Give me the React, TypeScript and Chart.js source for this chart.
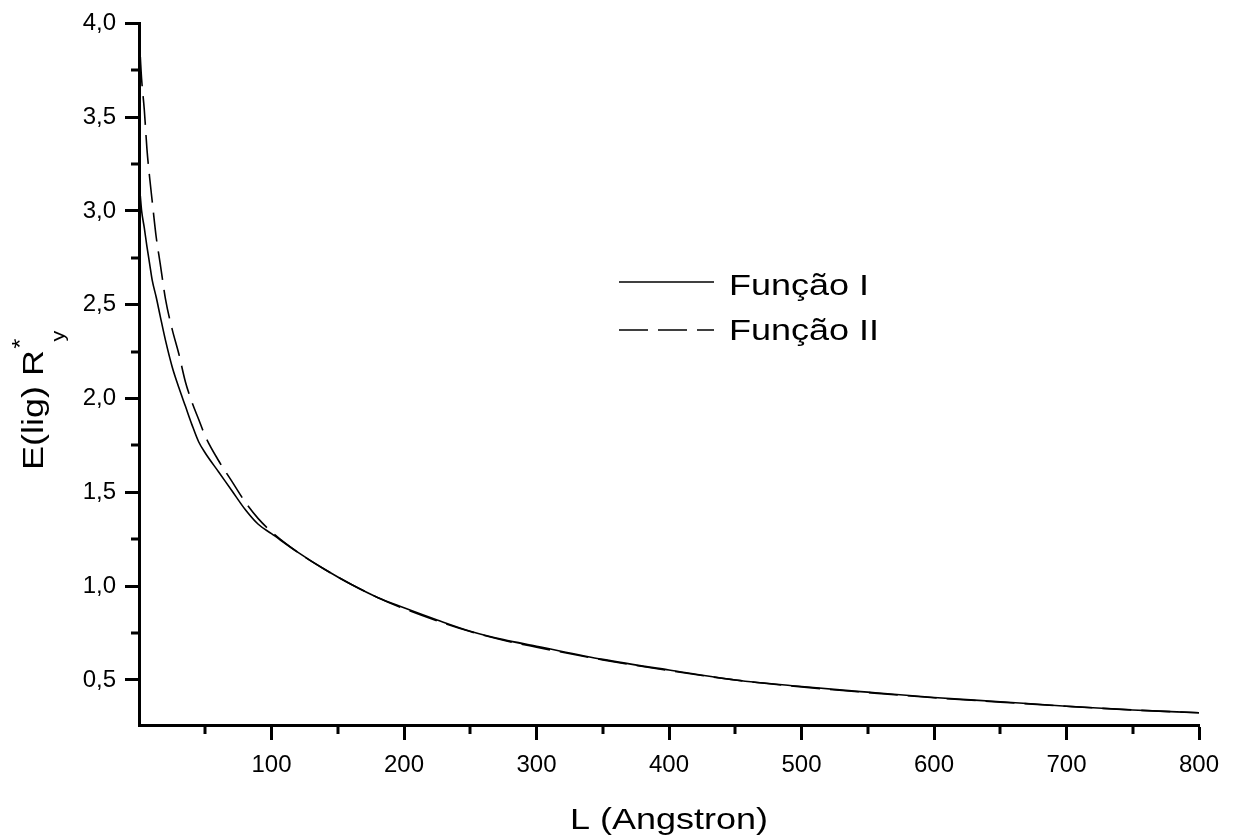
import { useEffect, useRef } from "react";
import { Chart, registerables } from "chart.js";

Chart.register(...registerables);

// ---- data ----
const L_VALUES = [1, 2, 4, 6, 8, 10, 13, 16, 20, 25, 30, 35, 40, 45, 50, 60, 70, 80, 90, 100, 120, 140, 160, 180, 200, 225, 250, 275, 300, 350, 400, 450, 500, 550, 600, 650, 700, 750, 800];
const FUNCAO_I = [3.08, 3.0, 2.91, 2.81, 2.72, 2.63, 2.54, 2.44, 2.31, 2.17, 2.06, 1.96, 1.86, 1.77, 1.71, 1.61, 1.51, 1.41, 1.33, 1.28, 1.18, 1.09, 1.01, 0.94, 0.885, 0.82, 0.76, 0.715, 0.68, 0.61, 0.553, 0.5, 0.465, 0.435, 0.407, 0.384, 0.36, 0.34, 0.325];
const FUNCAO_II = [3.82, 3.70, 3.54, 3.33, 3.18, 3.05, 2.86, 2.72, 2.53, 2.37, 2.24, 2.09, 1.98, 1.89, 1.80, 1.67, 1.56, 1.45, 1.36, 1.29, 1.18, 1.09, 1.01, 0.94, 0.88, 0.815, 0.758, 0.712, 0.675, 0.607, 0.55, 0.5, 0.463, 0.433, 0.405, 0.382, 0.36, 0.34, 0.325];

const X_MAJOR = [100, 200, 300, 400, 500, 600, 700, 800];
const X_MINOR = [50, 150, 250, 350, 450, 550, 650, 750];
const Y_MAJOR = [0.5, 1.0, 1.5, 2.0, 2.5, 3.0, 3.5, 4.0];
const Y_MINOR = [0.75, 1.25, 1.75, 2.25, 2.75, 3.25, 3.75];

const SERIES_NAMES = ["Função I", "Função II"];
const X_TITLE = "L (Angstron)";
const Y_TITLE_MAIN = "E(lig) R";
const Y_TITLE_SUP = "*";
const Y_TITLE_SUB = "y";

const FONT_FAMILY = '"Liberation Sans", Arial, Helvetica, sans-serif';
const DASH = [29, 10];

function drawScaledText(
  ctx: CanvasRenderingContext2D,
  text: string,
  x: number,
  y: number,
  size: number,
  sx: number,
  align: CanvasTextAlign
) {
  ctx.save();
  ctx.font = `${size}px ${FONT_FAMILY}`;
  ctx.fillStyle = "#000";
  ctx.textBaseline = "alphabetic";
  ctx.textAlign = align;
  ctx.translate(x, y);
  ctx.scale(sx, 1);
  ctx.fillText(text, 0, 0);
  ctx.restore();
}

const extrasPlugin = {
  id: "extras",
  afterDraw(chart: any) {
    const ctx: CanvasRenderingContext2D = chart.ctx;
    const { left, bottom } = chart.chartArea;
    const xs = chart.scales.x;
    const ys = chart.scales.y;
    ctx.save();
    ctx.strokeStyle = "#000";
    ctx.lineWidth = 3;
    ctx.lineCap = "butt";
    // minor ticks
    for (const v of X_MINOR) {
      const px = Math.round(xs.getPixelForValue(v));
      ctx.beginPath();
      ctx.moveTo(px, bottom);
      ctx.lineTo(px, bottom + 9);
      ctx.stroke();
    }
    for (const v of Y_MINOR) {
      const py = Math.round(ys.getPixelForValue(v));
      ctx.beginPath();
      ctx.moveTo(left - 8, py);
      ctx.lineTo(left, py);
      ctx.stroke();
    }
    ctx.restore();

    // x title
    drawScaledText(ctx, X_TITLE, (xs.left + xs.right) / 2, 829, 30, 1.2, "center");

    // y title (rotated)
    ctx.save();
    ctx.translate(43, 470);
    ctx.rotate(-Math.PI / 2);
    ctx.scale(1.2, 1);
    ctx.fillStyle = "#000";
    ctx.textBaseline = "alphabetic";
    ctx.textAlign = "left";
    ctx.font = `30px ${FONT_FAMILY}`;
    ctx.fillText(Y_TITLE_MAIN, 0, 0);
    const w = ctx.measureText(Y_TITLE_MAIN).width;
    ctx.font = `22px ${FONT_FAMILY}`;
    ctx.fillText(Y_TITLE_SUP, w + 1, -16);
    ctx.font = `18px ${FONT_FAMILY}`;
    ctx.fillText(Y_TITLE_SUB, w + 7, 21);
    ctx.restore();

    // legend
    const datasets = chart.data.datasets;
    const rows = [
      { y: 282, ty: 295 },
      { y: 330, ty: 340 },
    ];
    rows.forEach((r, i) => {
      const ds = datasets[i];
      ctx.save();
      ctx.strokeStyle = ds.borderColor;
      ctx.lineWidth = ds.borderWidth;
      ctx.setLineDash(ds.borderDash || []);
      ctx.beginPath();
      ctx.moveTo(619, r.y);
      ctx.lineTo(714, r.y);
      ctx.stroke();
      ctx.restore();
      drawScaledText(ctx, SERIES_NAMES[i], 729, r.ty, 30, 1.2, "left");
    });
  },
};

export default function App() {
  const canvasRef = useRef<HTMLCanvasElement | null>(null);

  useEffect(() => {
    if (!canvasRef.current) return;
    const chart = new Chart(canvasRef.current, {
      type: "line",
      data: {
        datasets: [
          {
            label: SERIES_NAMES[0],
            data: L_VALUES.map((x, i) => ({ x, y: FUNCAO_I[i] })),
            borderColor: "#000",
            borderWidth: 1.6,
            pointRadius: 0,
            fill: false,
            cubicInterpolationMode: "monotone",
          },
          {
            label: SERIES_NAMES[1],
            data: L_VALUES.map((x, i) => ({ x, y: FUNCAO_II[i] })),
            borderColor: "#000",
            borderWidth: 1.6,
            borderDash: DASH,
            pointRadius: 0,
            fill: false,
            cubicInterpolationMode: "monotone",
          },
        ],
      },
      options: {
        animation: false,
        responsive: false,
        devicePixelRatio: 1,
        layout: { padding: { top: 23, right: 37, left: 0, bottom: 0 } },
        plugins: {
          legend: { display: false },
          tooltip: { enabled: false },
          title: { display: false },
        },
        scales: {
          x: {
            type: "linear",
            min: 0,
            max: 800,
            afterBuildTicks: (scale: any) => {
              scale.ticks = X_MAJOR.map((v) => ({ value: v }));
            },
            afterFit: (scale: any) => {
              scale.height = 113;
            },
            grid: {
              drawOnChartArea: false,
              drawTicks: true,
              tickLength: 15,
              tickWidth: 3,
              tickColor: "#000",
            },
            border: { display: true, color: "#000", width: 3 },
            ticks: {
              color: "#000",
              padding: 11,
              maxRotation: 0,
              autoSkip: false,
              font: { family: FONT_FAMILY, size: 24 },
              callback: (v: any) => String(v),
            },
          },
          y: {
            type: "linear",
            min: 0.26,
            max: 4.0,
            afterBuildTicks: (scale: any) => {
              scale.ticks = Y_MAJOR.map((v) => ({ value: v }));
            },
            afterFit: (scale: any) => {
              scale.width = 139;
            },
            grid: {
              drawOnChartArea: false,
              drawTicks: true,
              tickLength: 14,
              tickWidth: 3,
              tickColor: "#000",
            },
            border: { display: true, color: "#000", width: 3 },
            ticks: {
              color: "#000",
              padding: 9,
              autoSkip: false,
              font: { family: FONT_FAMILY, size: 24 },
              callback: (v: any) => Number(v).toFixed(1).replace(".", ","),
            },
          },
        },
      },
      plugins: [extrasPlugin],
    });
    return () => chart.destroy();
  }, []);

  return (
    <div style={{ position: "absolute", left: 0, top: 0, width: 1236, height: 838, background: "#fff" }}>
      <canvas ref={canvasRef} width={1236} height={838} style={{ display: "block" }} />
    </div>
  );
}
